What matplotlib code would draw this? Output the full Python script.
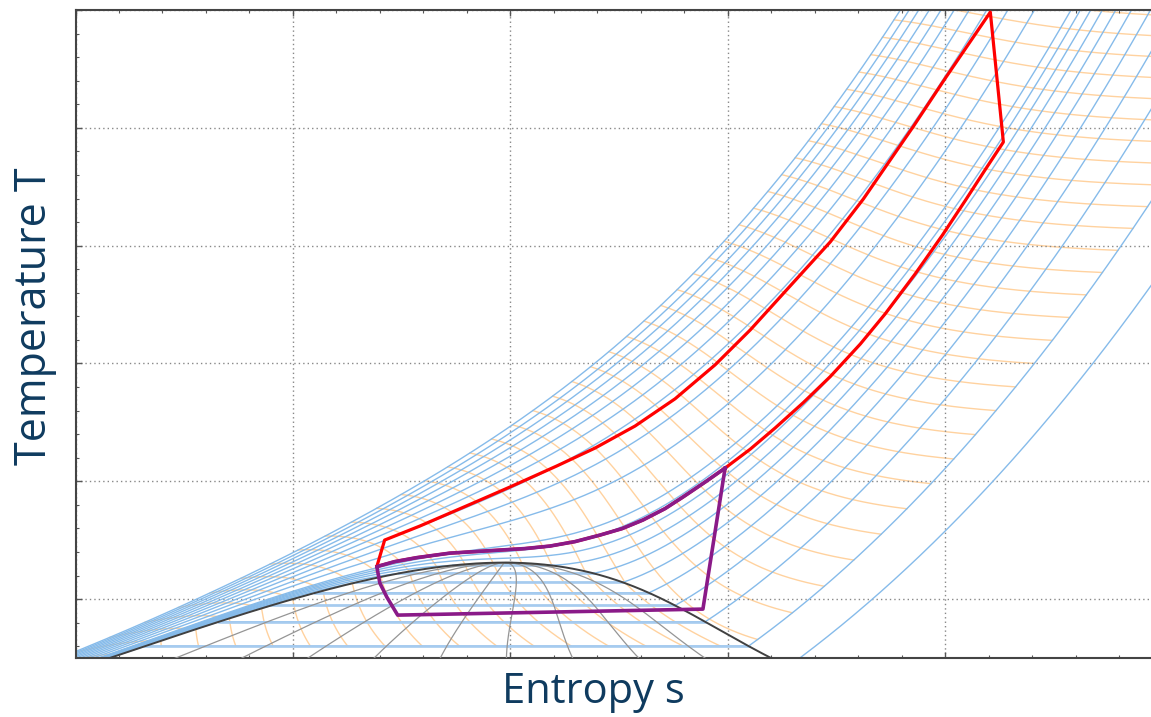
import numpy as np
import matplotlib
matplotlib.use("Agg")
import matplotlib.pyplot as plt
from matplotlib.ticker import MultipleLocator

# isoline levels of the chart (CO2, IIR reference)
p_levels = [0.5, 1, 2, 3, 4, 5, 6, 7, 8, 9, 10,
            15, 20, 25, 30, 35, 40, 45, 50, 55, 60]  # MPa
h_levels = list(range(100, 1000, 20))  # kJ/kg
h_p_range = [1, 60]  # MPa, isenthalps are drawn between these isobars
q_levels = [0.1, 0.2, 0.3, 0.4, 0.5, 0.6, 0.7, 0.8, 0.9]

# cycles: entropy in kJ/(kg K), temperature in degC
# red: pump, high pressure heating, turbine, low pressure cooling
red_s = [1.193, 1.211, 1.292, 1.361, 1.430, 1.499, 1.607, 1.695, 1.787, 1.879, 1.971,
         2.052, 2.128, 2.236, 2.312, 2.427, 2.501, 2.604,
         2.634, 2.593, 2.547, 2.494, 2.431, 2.362, 2.305, 2.236, 2.174, 2.109, 2.052, 1.994]
red_T = [27.6, 50.1, 62.0, 73.0, 84.0, 95.1, 113.0, 128.2, 146.9, 170.0, 198.8,
         228.5, 259.4, 303.2, 339.6, 401.2, 442.4, 498.2,
         387.9, 364.9, 338.6, 309.0, 275.9, 242.0, 216.5, 188.9, 166.8, 145.2, 127.3, 111.2]
# shared gas cooler (purple drawn over red)
cooler_s = [1.948, 1.897, 1.856, 1.805, 1.757, 1.706, 1.649, 1.591, 1.534,
            1.476, 1.419, 1.361, 1.285, 1.234, 1.193]
cooler_T = [99.3, 86.6, 76.8, 67.1, 59.8, 54.3, 48.8, 45.0, 42.9,
            41.6, 40.3, 39.0, 35.2, 31.8, 27.6]
# purple: expansion, evaporation, compression
purple_s = [1.200, 1.216, 1.241, 1.943]
purple_T = [13.6, 1.7, -13.6, -8.5]

# ---- Peng-Robinson model of CO2 for the background net ----
M = 44.0095e-3
R = 8.314462618 / M
Tc, pc, omega = 304.1282, 7.3773e6, 0.22394
ac = 0.45724 * R**2 * Tc**2 / pc
b = 0.07780 * R * Tc / pc
kap = 0.37464 + 1.54226 * omega - 0.26992 * omega**2
r2 = np.sqrt(2.0)
shomate = (24.99735, 55.18696, -33.69137, 7.948387, -0.136638)
ref = {"h": 0.0, "s": 0.0}


def attraction(T):
    sq = 1 + kap * (1 - np.sqrt(T / Tc))
    return ac * sq**2, -ac * kap * sq / np.sqrt(T * Tc)


def ideal_gas(T, p):
    A_, B_, C_, D_, E_ = shomate
    t = T / 1000.0
    h = (A_ * t + B_ * t**2 / 2 + C_ * t**3 / 3 + D_ * t**4 / 4 - E_ / t) * 1e3 / M
    s = (A_ * np.log(t) + B_ * t + C_ * t**2 / 2 + D_ * t**3 / 3 - E_ / (2 * t**2)) / M \
        - R * np.log(p / 1e5)
    return h, s


def z_roots(A, B):
    m = np.zeros((A.size, 3, 3))
    m[:, 0, 0] = 1 - B
    m[:, 0, 1] = -(A - 3 * B**2 - 2 * B)
    m[:, 0, 2] = A * B - B**2 - B**3
    m[:, 1, 0] = 1
    m[:, 2, 1] = 1
    ev = np.linalg.eigvals(m)
    ok = (np.abs(ev.imag) < 1e-6) & (ev.real > B[:, None])
    re = np.where(ok, ev.real, np.nan)
    return np.nanmin(re, axis=1), np.nanmax(re, axis=1)


def state(T, p, phase=None):
    T = np.atleast_1d(np.asarray(T, float))
    p = np.broadcast_to(np.asarray(p, float), T.shape)
    a, da = attraction(T)
    A = a * p / (R * T)**2
    B = b * p / (R * T)
    zl, zv = z_roots(A, B)

    def lnphi(Z):
        return Z - 1 - np.log(Z - B) - A / (2 * r2 * B) * np.log((Z + (1 + r2) * B) / (Z + (1 - r2) * B))

    fl, fv = lnphi(zl), lnphi(zv)
    if phase == "liq":
        Z = zl
    elif phase == "vap":
        Z = zv
    else:
        Z = np.where(fl < fv, zl, zv)
    L = np.log((Z + (1 + r2) * B) / (Z + (1 - r2) * B))
    hi, si = ideal_gas(T, p)
    h = hi + R * T * (Z - 1) + (T * da - a) / (2 * r2 * b) * L
    s = si + R * np.log(Z - B) + da / (2 * r2 * b) * L
    return (h + ref["h"]) / 1e3, (s + ref["s"]) / 1e3, zl, zv, fl, fv


def saturation(T):
    lo = np.full(T.shape, 1e4)
    hi = np.full(T.shape, pc)
    for _ in range(70):
        mid = np.sqrt(lo * hi)
        _, _, zl, zv, fl, fv = state(T, mid)
        two = (zv - zl) > 1e-7
        up = np.where(two, fl > fv, zv > 0.3074)
        lo = np.where(up, mid, lo)
        hi = np.where(up, hi, mid)
    return np.sqrt(lo * hi)


# reference state: saturated liquid at 0 degC -> h = 200 kJ/kg, s = 1 kJ/(kg K)
T0 = np.array([273.15])
h0, s0 = state(T0, saturation(T0), "liq")[:2]
ref["h"] = (200.0 - h0[0]) * 1e3
ref["s"] = (1.0 - s0[0]) * 1e3

T_sat = np.concatenate([np.linspace(216.6, 303.0, 150), Tc - np.geomspace(1.1, 0.01, 50)])
p_sat = saturation(T_sat)
h_l, s_l = state(T_sat, p_sat, "liq")[:2]
h_v, s_v = state(T_sat, p_sat, "vap")[:2]
h_c, s_c = state(np.array([Tc]), pc)[:2]

T_grid = np.linspace(215.0, 790.0, 1000)


def isobar_path(p):
    """entropy, temperature, enthalpy along one isobar; k = number of liquid points"""
    if p_sat[0] < p < pc:
        Ts = np.interp(np.log(p), np.log(p_sat), T_sat)
        TL = np.append(T_grid[T_grid < Ts], Ts)
        TV = np.insert(T_grid[T_grid > Ts], 0, Ts)
        hL, sL = state(TL, p, "liq")[:2]
        hV, sV = state(TV, p, "vap")[:2]
        return np.r_[sL, sV], np.r_[TL, TV], np.r_[hL, hV], len(TL)
    h, s = state(T_grid, p)[:2]
    return s, T_grid, h, None


# ---- figure ----
fig = plt.figure(figsize=(11.51, 7.17), dpi=100)
ax = fig.add_axes([75.5 / 1151, 59 / 717, 1087 / 1151, 648 / 717])

# isenthalps
fine = [isobar_path(p * 1e6) for p in np.geomspace(h_p_range[0], h_p_range[1], 260)]
for hv in h_levels:
    xs, ys = [], []
    for s, T, h, _ in fine:
        if h[0] <= hv <= h[-1]:
            xs.append(np.interp(hv, h, s))
            ys.append(np.interp(hv, h, T) - 273.15)
        else:
            xs.append(np.nan)
            ys.append(np.nan)
    ax.plot(xs, ys, color="#ffd29f", lw=1.0, zorder=1)

# isobars
for p in p_levels:
    s, T, h, k = isobar_path(p * 1e6)
    ax.plot(s, T - 273.15, color="#86bbea", lw=1.0, zorder=2)
    if k is not None:
        ax.plot(s[k - 1:k + 1], T[k - 1:k + 1] - 273.15, color="#a6cbef", lw=1.9, zorder=2)

# vapour quality lines
for q in q_levels:
    sq = np.append(s_l + q * (s_v - s_l), s_c)
    ax.plot(sq, np.append(T_sat, Tc) - 273.15, color="#959595", lw=0.9, zorder=3)

# saturation dome
dome_s = np.concatenate([s_l, s_c, s_v[::-1]])
dome_T = np.concatenate([T_sat, [Tc], T_sat[::-1]]) - 273.15
ax.plot(dome_s, dome_T, color="#404040", lw=1.4, zorder=4)

# cycles
ax.plot(red_s + cooler_s, red_T + cooler_T, color="#ff0000", lw=2.3, zorder=5)
ax.plot(red_s[-1:] + cooler_s + purple_s + red_s[-1:],
        red_T[-1:] + cooler_T + purple_T + red_T[-1:],
        color="#8a1a88", lw=2.6, zorder=6)

ax.set_xlim(0.5, 3.0)
ax.set_ylim(-50, 500)
ax.xaxis.set_major_locator(MultipleLocator(0.5))
ax.xaxis.set_minor_locator(MultipleLocator(0.1))
ax.yaxis.set_major_locator(MultipleLocator(100))
ax.yaxis.set_minor_locator(MultipleLocator(20))
ax.tick_params(which="both", direction="in", top=True, right=True,
               labelbottom=False, labelleft=False, color="#555555")
ax.tick_params(which="major", length=4, width=1)
ax.tick_params(which="minor", length=2.5, width=0.8)
ax.grid(which="major", linestyle=(0, (1, 2.2)), color="#888888", lw=1.0)
for sp in ax.spines.values():
    sp.set_color("#444444")
    sp.set_linewidth(1.5)

fig.text(593 / 1151, 1 - 692 / 717, "Entropy s", ha="center", va="center",
         fontsize=30, color="#0f3b5f", family="Open Sans")
fig.text(35 / 1151, 1 - 316 / 717, "Temperature T", ha="center", va="center", rotation=90,
         fontsize=31, color="#0f3b5f", family="Open Sans")

fig.savefig("out.png", dpi=100)
